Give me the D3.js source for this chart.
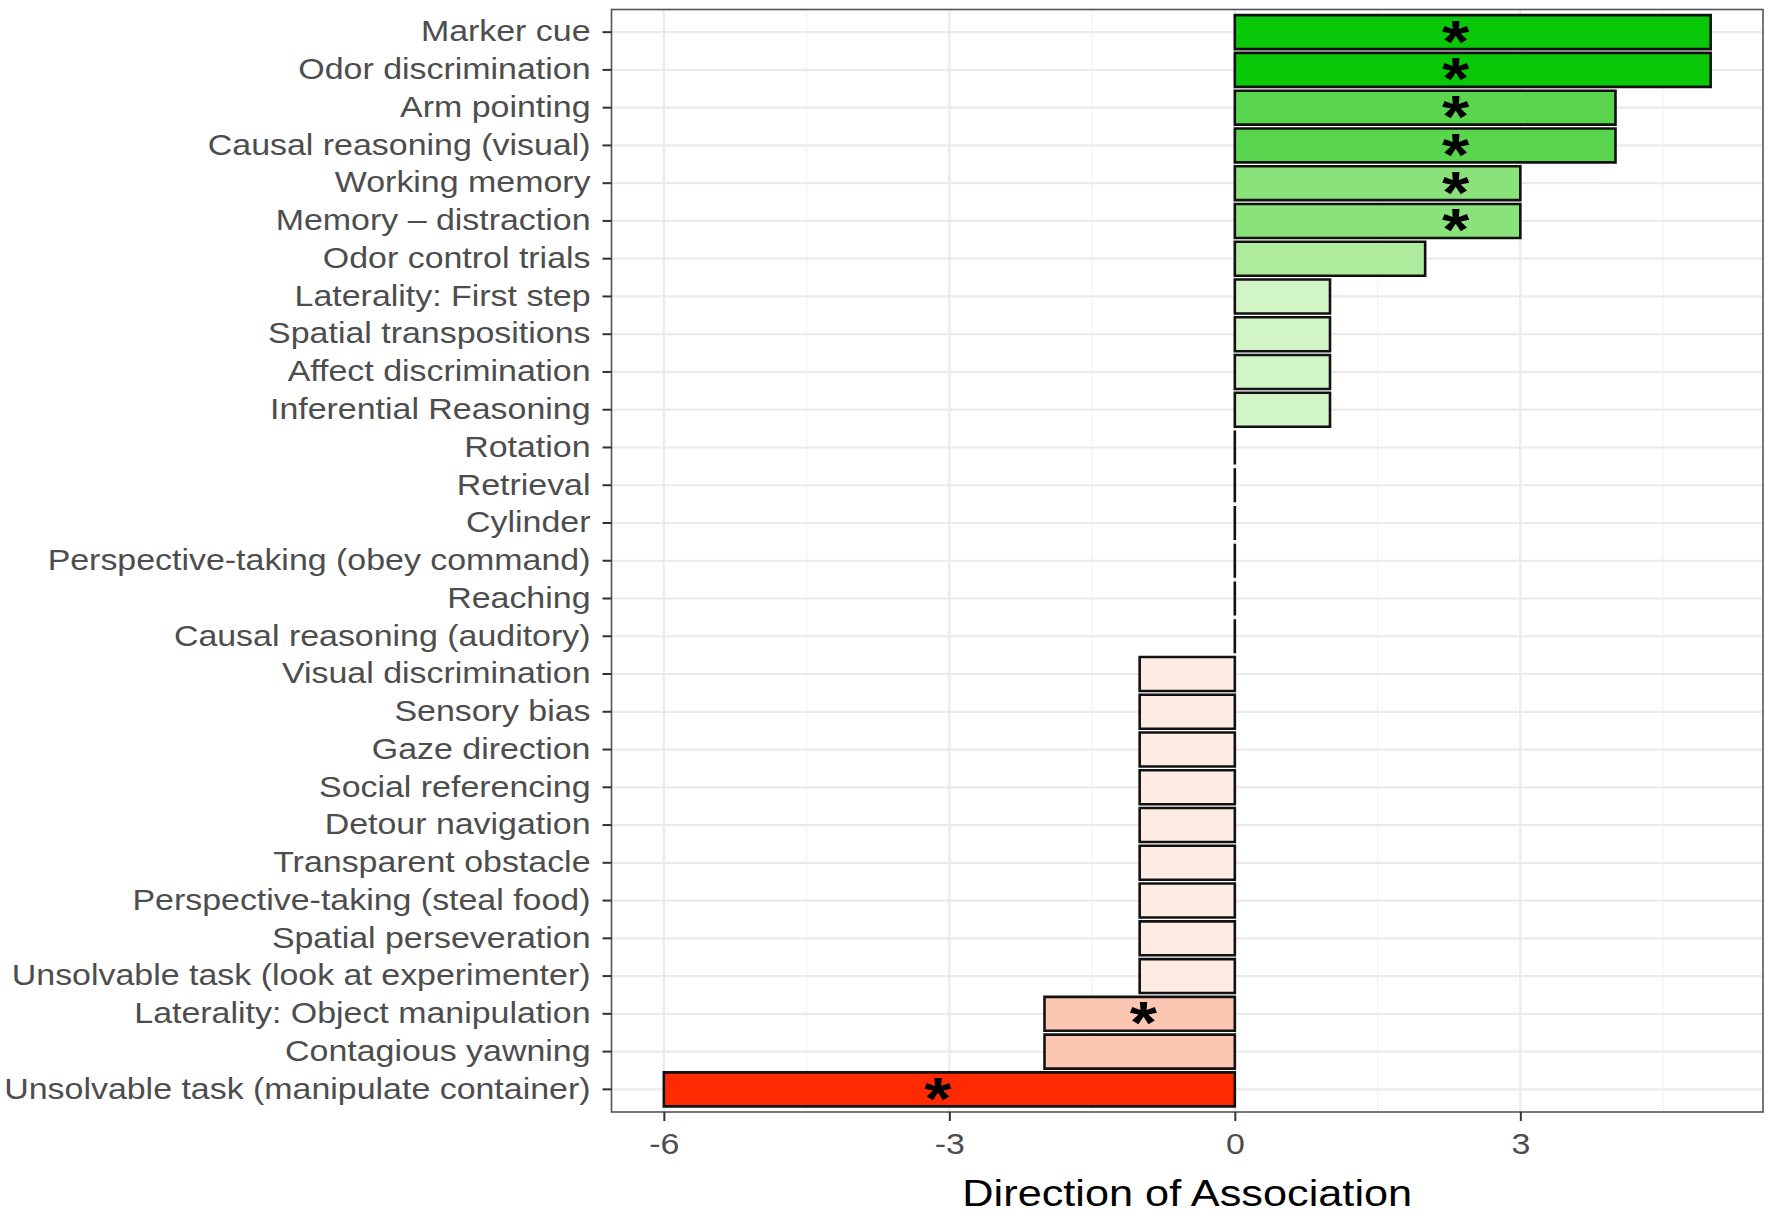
<!DOCTYPE html>
<html>
<head>
<meta charset="utf-8">
<script src="https://cdn.jsdelivr.net/npm/d3@7"></script>
<style>
  body { margin: 0; background: #fff; }
  svg { display: block; font-family: "Liberation Sans", Arial, sans-serif; }
</style>
</head>
<body>
<svg id="chart" width="1772" height="1221"></svg>
<script>
// tasks, top to bottom
const tasks = [
  'Marker cue', 'Odor discrimination', 'Arm pointing', 'Causal reasoning (visual)',
  'Working memory', 'Memory – distraction', 'Odor control trials', 'Laterality: First step',
  'Spatial transpositions', 'Affect discrimination', 'Inferential Reasoning', 'Rotation',
  'Retrieval', 'Cylinder', 'Perspective-taking (obey command)', 'Reaching',
  'Causal reasoning (auditory)', 'Visual discrimination', 'Sensory bias', 'Gaze direction',
  'Social referencing', 'Detour navigation', 'Transparent obstacle',
  'Perspective-taking (steal food)', 'Spatial perseveration',
  'Unsolvable task (look at experimenter)', 'Laterality: Object manipulation',
  'Contagious yawning', 'Unsolvable task (manipulate container)',
]
const direction = [5, 5, 4, 4, 3, 3, 2, 1, 1, 1, 1, 0, 0, 0, 0, 0, 0,
  -1, -1, -1, -1, -1, -1, -1, -1, -1, -2, -2, -6]
// x position of the significance star, null = not significant
const starX = [2.32, 2.32, 2.32, 2.32, 2.32, 2.32, null, null, null, null, null, null,
  null, null, null, null, null, null, null, null, null, null, null, null, null, null,
  -0.96, null, -3.12]
const xTicks = [-6, -3, 0, 3]
const xMinor = [-4.5, -1.5, 1.5, 4.5]
// fill gradient stops (value -> colour)
const fillStops = [-6, -2, -1, 0, 1, 2, 3, 4, 5]
const fillColours = ['#ff2a00', '#fcc7b2', '#feece4', '#ffffff', '#d2f5c8',
  '#aeeb9c', '#8ae27a', '#5ad64e', '#08c808']

const rows = tasks.map((name, i) => ({ name, value: direction[i], star: starX[i] }))

const panel = { left: 611.5, right: 1763, top: 9.5, bottom: 1112 }
const stretch = 1.17 // the reference text is drawn a little wide
const svg = d3.select('#chart')

const x = d3.scaleLinear().domain([-6.55, 5.55]).range([panel.left, panel.right])
const y = d3.scaleBand().domain(tasks).range([panel.top, panel.bottom])
  .paddingInner(0.1).paddingOuter(0.15)
const fill = d3.scaleLinear().domain(fillStops).range(fillColours)
const mid = d => y(d) + y.bandwidth() / 2

// grid
const grid = svg.append('g')
grid.selectAll('.minor').data(xMinor).enter().append('line')
  .attr('x1', d => x(d)).attr('x2', d => x(d))
  .attr('y1', panel.top).attr('y2', panel.bottom)
  .attr('stroke', '#f2f2f2').attr('stroke-width', 1.2)
grid.selectAll('.vmajor').data(xTicks).enter().append('line')
  .attr('x1', d => x(d)).attr('x2', d => x(d))
  .attr('y1', panel.top).attr('y2', panel.bottom)
  .attr('stroke', '#ebebeb').attr('stroke-width', 2.2)
grid.selectAll('.hmajor').data(tasks).enter().append('line')
  .attr('x1', panel.left).attr('x2', panel.right)
  .attr('y1', mid).attr('y2', mid)
  .attr('stroke', '#ebebeb').attr('stroke-width', 2.2)

// bars as paths so zero-width ones still show as a line
svg.append('g').selectAll('path').data(rows).enter().append('path')
  .attr('d', (d) => {
    const x0 = x(Math.min(0, d.value))
    const x1 = x(Math.max(0, d.value))
    const y0 = y(d.name)
    const h = y.bandwidth()
    return `M${x0},${y0}H${x1}V${y0 + h}H${x0}Z`
  })
  .attr('fill', d => fill(d.value))
  .attr('stroke', '#111')
  .attr('stroke-width', 2.6)

// significance stars
const starSize = 60
svg.append('g').selectAll('text').data(rows.filter(d => d.star !== null)).enter()
  .append('text')
  .attr('transform', d => `translate(${x(d.star)},${mid(d.name) + starSize * 0.49}) scale(${stretch},1)`)
  .attr('text-anchor', 'middle')
  .attr('font-size', starSize)
  .attr('font-weight', 'bold')
  .attr('fill', '#000')
  .text('*')

// panel border
svg.append('rect')
  .attr('x', panel.left).attr('y', panel.top)
  .attr('width', panel.right - panel.left).attr('height', panel.bottom - panel.top)
  .attr('fill', 'none').attr('stroke', '#555').attr('stroke-width', 1.6)

// axes
const yAxis = svg.append('g')
  .attr('transform', `translate(${panel.left},0)`)
  .call(d3.axisLeft(y).tickSize(9).tickPadding(12))
const xAxis = svg.append('g')
  .attr('transform', `translate(0,${panel.bottom})`)
  .call(d3.axisBottom(x).tickValues(xTicks).tickFormat(d => String(d))
    .tickSize(9).tickPadding(12))
for (const ax of [yAxis, xAxis]) {
  ax.select('.domain').remove()
  ax.selectAll('.tick line').attr('stroke', '#333').attr('stroke-width', 2)
  ax.selectAll('.tick text')
    .attr('fill', '#4d4d4d')
    .attr('font-size', 29)
    .attr('font-family', '"Liberation Sans", Arial, sans-serif')
    .attr('transform', `scale(${stretch},1)`)
}
yAxis.selectAll('.tick text').attr('x', -21 / stretch)

svg.append('text')
  .attr('transform', `translate(${(panel.left + panel.right) / 2},1206) scale(${stretch},1)`)
  .attr('text-anchor', 'middle')
  .attr('font-size', 37)
  .attr('fill', '#000')
  .text('Direction of Association')
</script>
</body>
</html>
